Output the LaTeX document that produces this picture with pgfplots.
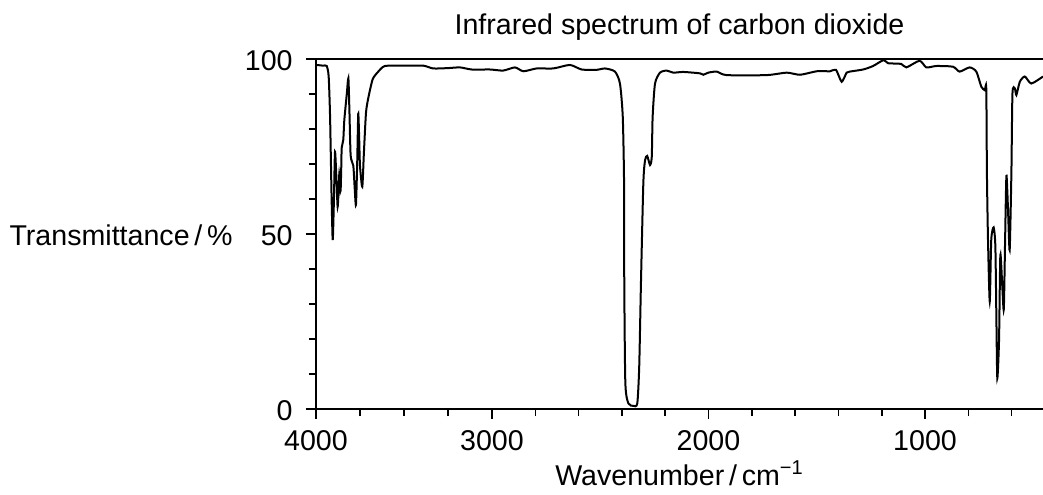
\documentclass[border=0pt]{standalone}
\usepackage{fontspec}
\setmainfont{Liberation Sans}
\usepackage{pgfplots}
\pgfplotsset{compat=1.18}

\begin{document}
\fontsize{14.3pt}{17pt}\selectfont
\begin{tikzpicture}
\begin{axis}[
	at={(0,0)}, anchor=south west,
	scale only axis,
	width=363.5pt, height=175pt,
	% the wavenumber scale is squeezed above 3000
	x coord trafo/.code={\pgfmathparse{#1>3000 ? (4000-#1)*0.176 : 176+(3000-#1)*0.2165}},
	xmin=4000, xmax=455,
	ymin=0, ymax=100,
	clip=false,
	axis lines=left,
	axis line style={-, line width=1pt},
	tick align=outside,
	major tick length=5pt,
	minor tick length=3.5pt,
	tick style={black, line width=0.8pt},
	xtick={4000,3000,2000,1000},
	xticklabels={4000,3000,2000,1000},
	minor xtick={3750,3500,3250,2800,2600,2400,2200,1800,1600,1400,1200,800,600},
	ytick={0,50,100},
	yticklabels={0,50,100},
	minor ytick={10,20,30,40,60,70,80,90},
	xticklabel style={anchor=base, inner sep=0pt, yshift=-15.5pt},
	yticklabel style={anchor=base east, inner sep=0pt, xshift=-6.5pt, yshift=-5.5pt},
	title={Infrared spectrum of carbon dioxide},
	title style={at={(axis description cs:0.5,1)}, anchor=base, inner sep=0pt, yshift=6.5pt},
	xlabel={Wavenumber\,/\,cm\textsuperscript{−1}},
	xlabel style={at={(axis description cs:0.5,0)}, anchor=base, inner sep=0pt, yshift=-38.2pt},
	ylabel={Transmittance\,/\,\%},
	ylabel style={at={(axis description cs:0,0.5)}, rotate=-90, anchor=base east, inner sep=0pt, xshift=-41.5pt, yshift=-5.5pt},
]
\addplot[black, line width=1pt, smooth, tension=0.4] coordinates {
	(4000,98.3) (3996,98.3) (3960,98.1) (3939,98.0) (3928,95) (3920,83.5)
	(3912,62) (3905,48.3) (3898,60) (3892,73.5) (3884,66) (3877,57.8)
	(3870,64) (3868,66.9) (3863,64) (3860,62.4) (3856,70) (3854,74.6)
	(3845,76.9) (3839,82.6) (3825,90) (3816,94.5) (3810,85) (3803,72.4)
	(3788,69.5) (3780,63) (3773,58.3) (3766,70) (3760,84.3) (3755,78)
	(3750,69.5) (3737,63.5) (3728,73) (3716,84.6) (3703,88.8) (3678,94.2)
	(3646,96.4) (3608,98.0) (3500,98.1) (3390,98.1) (3334,97.3) (3250,97.4)
	(3182,97.6) (3115,97.0) (3011,97.0) (2948,96.7) (2894,97.6) (2855,96.5)
	(2794,97.3) (2717,97.3) (2640,98.3) (2586,97.0) (2516,96.9) (2478,97.3)
	(2432,96.4) (2409,93.0) (2396,83.5) (2390,64.5) (2389,35.9) (2384,7.3)
	(2370,1.6) (2347,0.9) (2329,1.6) (2320,12.1) (2312,35.9) (2301,64.5)
	(2293,71.1) (2283,72.3) (2270,69.7) (2262,72.1) (2258,83.5) (2247,93.0)
	(2224,96.1) (2193,96.7) (2163,96.1) (2116,96.3) (2039,95.9) (2024,95.5)
	(2001,96.1) (1962,96.4) (1916,95.4) (1731,95.4) (1639,96.1) (1577,95.5)
	(1500,96.5) (1439,96.5) (1411,96.9) (1385,93.5) (1362,96.1) (1348,96.4)
	(1286,97.0) (1240,98.0) (1191,99.7) (1171,98.8) (1110,98.6) (1086,97.6)
	(1025,99.5) (994,97.6) (948,98.0) (871,97.8) (840,96.4) (794,97.6)
	(763,96.4) (740,92.1) (724,91.1) (717,91.6) (714,67.3) (709,48.3)
	(701,30.7) (694,48.3) (683,51.9) (675,46.4) (670,24.5) (666,8.8)
	(658,19.7) (652,44.0) (643,35.0) (636,28.5) (630,48.3) (624,66.6)
	(617,57.8) (609,45.4) (601,67.3) (596,90.2) (585,91.6) (578,89.7)
	(562,93.5) (539,95.0) (509,93.0) (455,95.0)
};
\draw[line width=1pt] (rel axis cs:0,1) -- (rel axis cs:1,1);
\end{axis}
\pgfresetboundingbox
\path[use as bounding box] (-158pt,-42.5pt) rectangle (363.5pt,204.5pt);
\end{tikzpicture}
\end{document}
